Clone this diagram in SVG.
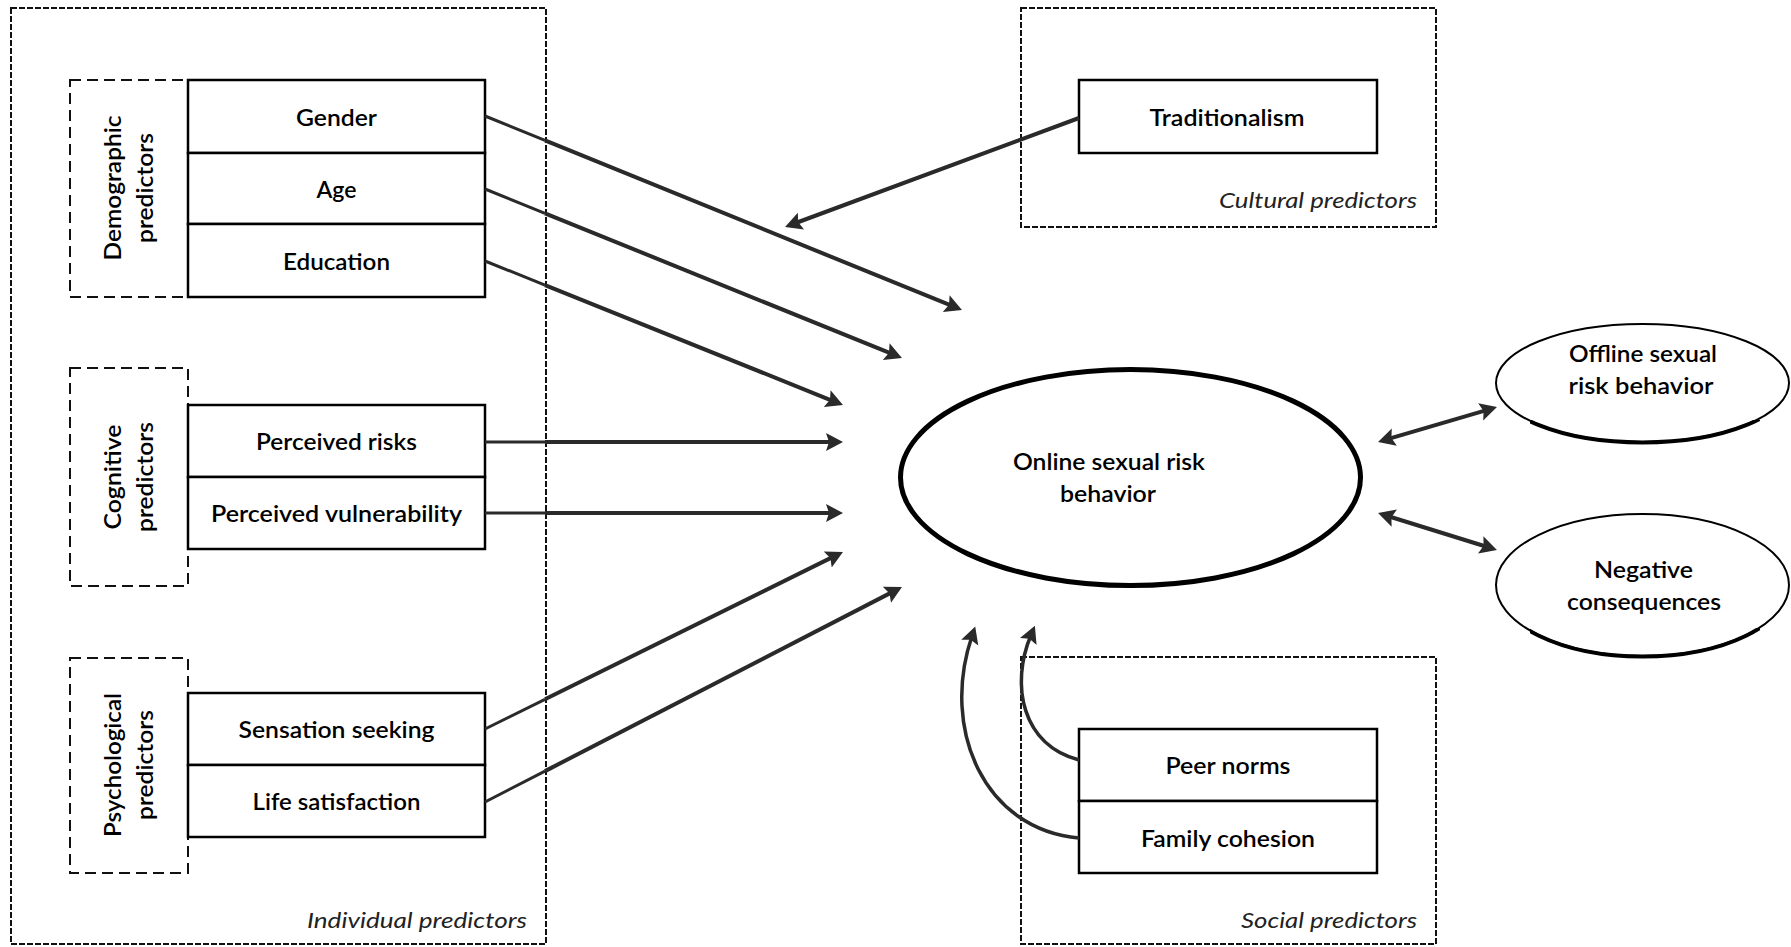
<svg xmlns="http://www.w3.org/2000/svg" width="1791" height="947" viewBox="0 0 1791 947">
<style>
  .outer{fill:none;stroke:#111;stroke-width:2;stroke-dasharray:6 2}
  .inner{fill:none;stroke:#111;stroke-width:2;stroke-dasharray:11 6}
  .box{fill:#fff;stroke:#000;stroke-width:2.5}
  .t{font-family:Lato,"Liberation Sans",sans-serif;font-size:23px;font-weight:600;fill:#000;text-anchor:middle}
  .lab{font-family:Lato,"Liberation Sans",sans-serif;font-size:22px;font-style:italic;fill:#222;text-anchor:end}
  .thin{fill:none;stroke:#2a2a2a;stroke-width:3}
  .thick{fill:none;stroke:#2a2a2a;stroke-width:4;marker-end:url(#ah)}
  .dbl{fill:none;stroke:#2a2a2a;stroke-width:4;marker-start:url(#ah);marker-end:url(#ah)}
  .curve{fill:none;stroke:#2a2a2a;stroke-width:3.5;marker-end:url(#ah)}
  .shadow{fill:none;stroke:#000;stroke-width:4}
</style>
<defs>
  <marker id="ah" markerUnits="userSpaceOnUse" markerWidth="20" markerHeight="20" refX="7" refY="9" orient="auto-start-reverse" viewBox="0 0 20 20">
    <path d="M0,0 L17,9 L0,18 L3,9 z" fill="#2a2a2a"/>
  </marker>
  <clipPath id="clipOff"><rect x="1530" y="420" width="230" height="30"/></clipPath>
  <clipPath id="clipNeg"><rect x="1530" y="628" width="230" height="36"/></clipPath>
</defs>
<rect x="0" y="0" width="1791" height="947" fill="#fff"/>

<g id="individual-predictors">
  <rect class="outer" x="11" y="8" width="535" height="936"/>
  <text class="lab" x="527" y="928" textLength="220" lengthAdjust="spacingAndGlyphs">Individual predictors</text>
</g>
<g id="cultural-predictors">
  <rect class="outer" x="1021" y="8" width="415" height="219"/>
  <text class="lab" x="1417" y="208" textLength="198" lengthAdjust="spacingAndGlyphs">Cultural predictors</text>
</g>
<g id="social-predictors">
  <rect class="outer" x="1021" y="657" width="415" height="287"/>
  <text class="lab" x="1417" y="928" textLength="176" lengthAdjust="spacingAndGlyphs">Social predictors</text>
</g>

<g id="demographic-predictors">
  <rect class="inner" x="70" y="80" width="118" height="217"/>
  <text class="t" transform="rotate(-90 121 188)" x="121" y="188" textLength="145" lengthAdjust="spacingAndGlyphs">Demographic</text>
  <text class="t" transform="rotate(-90 153 188)" x="153" y="188" textLength="110" lengthAdjust="spacingAndGlyphs">predictors</text>
</g>
<g id="gender">
  <rect class="box" x="188" y="80" width="297" height="73"/>
  <text class="t" x="336.5" y="126" textLength="81" lengthAdjust="spacingAndGlyphs">Gender</text>
</g>
<g id="age">
  <rect class="box" x="188" y="153" width="297" height="71"/>
  <text class="t" x="336.5" y="198" textLength="40" lengthAdjust="spacingAndGlyphs">Age</text>
</g>
<g id="education">
  <rect class="box" x="188" y="224" width="297" height="73"/>
  <text class="t" x="336.5" y="270" textLength="107" lengthAdjust="spacingAndGlyphs">Education</text>
</g>

<g id="cognitive-predictors">
  <rect class="inner" x="70" y="368" width="118" height="218"/>
  <text class="t" transform="rotate(-90 121 477)" x="121" y="477" textLength="105" lengthAdjust="spacingAndGlyphs">Cognitive</text>
  <text class="t" transform="rotate(-90 153 477)" x="153" y="477" textLength="110" lengthAdjust="spacingAndGlyphs">predictors</text>
</g>
<g id="perceived-risks">
  <rect class="box" x="188" y="405" width="297" height="72"/>
  <text class="t" x="336.5" y="450" textLength="161" lengthAdjust="spacingAndGlyphs">Perceived risks</text>
</g>
<g id="perceived-vulnerability">
  <rect class="box" x="188" y="477" width="297" height="72"/>
  <text class="t" x="336.5" y="522" textLength="251" lengthAdjust="spacingAndGlyphs">Perceived vulnerability</text>
</g>

<g id="psychological-predictors">
  <rect class="inner" x="70" y="658" width="118" height="215"/>
  <text class="t" transform="rotate(-90 121 765)" x="121" y="765" textLength="144" lengthAdjust="spacingAndGlyphs">Psychological</text>
  <text class="t" transform="rotate(-90 153 765)" x="153" y="765" textLength="110" lengthAdjust="spacingAndGlyphs">predictors</text>
</g>
<g id="sensation-seeking">
  <rect class="box" x="188" y="693" width="297" height="72"/>
  <text class="t" x="336.5" y="738" textLength="196" lengthAdjust="spacingAndGlyphs">Sensation seeking</text>
</g>
<g id="life-satisfaction">
  <rect class="box" x="188" y="765" width="297" height="72"/>
  <text class="t" x="336.5" y="810" textLength="168" lengthAdjust="spacingAndGlyphs">Life satisfaction</text>
</g>

<g id="traditionalism">
  <rect class="box" x="1079" y="80" width="298" height="73"/>
  <text class="t" x="1227" y="126" textLength="155" lengthAdjust="spacingAndGlyphs">Traditionalism</text>
</g>
<g id="peer-norms">
  <rect class="box" x="1079" y="729" width="298" height="72"/>
  <text class="t" x="1228" y="774" textLength="125" lengthAdjust="spacingAndGlyphs">Peer norms</text>
</g>
<g id="family-cohesion">
  <rect class="box" x="1079" y="801" width="298" height="72"/>
  <text class="t" x="1228" y="847" textLength="174" lengthAdjust="spacingAndGlyphs">Family cohesion</text>
</g>

<g id="online-sexual-risk-behavior">
  <ellipse cx="1130.5" cy="477.5" rx="230" ry="108" fill="#fff" stroke="#000" stroke-width="5"/>
  <text class="t" x="1109" y="470" textLength="192" lengthAdjust="spacingAndGlyphs">Online sexual risk</text>
  <text class="t" x="1108" y="502" textLength="96" lengthAdjust="spacingAndGlyphs">behavior</text>
</g>
<g id="offline-sexual-risk-behavior">
  <ellipse cx="1642.5" cy="383" rx="146.5" ry="59" fill="#fff" stroke="#000" stroke-width="2"/>
  <ellipse class="shadow" cx="1642.5" cy="383.5" rx="146.5" ry="59" clip-path="url(#clipOff)"/>
  <text class="t" x="1643" y="362" textLength="148" lengthAdjust="spacingAndGlyphs">Offline sexual</text>
  <text class="t" x="1641" y="394" textLength="145" lengthAdjust="spacingAndGlyphs">risk behavior</text>
</g>
<g id="negative-consequences">
  <ellipse cx="1642.5" cy="585" rx="146.5" ry="71" fill="#fff" stroke="#000" stroke-width="2"/>
  <ellipse class="shadow" cx="1642.5" cy="585.5" rx="146.5" ry="71" clip-path="url(#clipNeg)"/>
  <text class="t" x="1643.5" y="578" textLength="99" lengthAdjust="spacingAndGlyphs">Negative</text>
  <text class="t" x="1644" y="610" textLength="154" lengthAdjust="spacingAndGlyphs">consequences</text>
</g>

<g id="connectors">
  <g id="c-gender"><path class="thin" d="M485,116 L545,140.4"/><path class="thick" d="M545,140.4 L952.7,306.2"/></g>
  <g id="c-age"><path class="thin" d="M485,189 L545,213.3"/><path class="thick" d="M545,213.3 L892.7,354.2"/></g>
  <g id="c-education"><path class="thin" d="M485,261 L545,285.1"/><path class="thick" d="M545,285.1 L833.7,401.3"/></g>
  <g id="c-risks"><path class="thin" d="M485,442 L545,442"/><path class="thick" d="M545,442 L833,442"/></g>
  <g id="c-vulnerability"><path class="thin" d="M485,513 L545,513"/><path class="thick" d="M545,513 L833,513"/></g>
  <g id="c-sensation"><path class="thin" d="M485,729 L545,699.3"/><path class="thick" d="M545,699.3 L834,556.4"/></g>
  <g id="c-life"><path class="thin" d="M485,802 L545,771.1"/><path class="thick" d="M545,771.1 L893.1,591.6"/></g>
  <path id="c-traditionalism" class="thick" d="M1079,118 L794.4,223.5"/>
  <path id="c-offline" class="dbl" d="M1387.6,439.2 L1487.4,409.8"/>
  <path id="c-negative" class="dbl" d="M1387.6,516 L1487.4,547"/>
  <path id="c-peer" class="curve" d="M1079,760 C1022,745 1010,685 1031,635"/>
  <path id="c-family" class="curve" d="M1079,838 C985,830 940,730 972,636"/>
</g>
</svg>
